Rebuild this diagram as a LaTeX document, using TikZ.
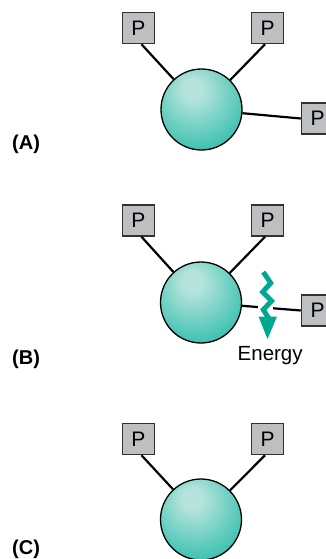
\documentclass[tikz,border=0pt]{standalone}
\usepackage{fontspec}
\setmainfont{Liberation Sans}
\usetikzlibrary{calc}
\definecolor{sphlight}{RGB}{182,228,220}
\definecolor{sphedge}{RGB}{0,176,155}
\definecolor{zigteal}{RGB}{0,168,146}
\definecolor{boxfill}{RGB}{190,191,193}
\definecolor{boxline}{RGB}{50,50,50}
\pgfdeclareradialshading{sphshade}{\pgfpoint{-6bp}{14bp}}{color(0bp)=(sphlight); color(6bp)=(sphlight); color(46bp)=(sphedge); color(70bp)=(sphedge)}
\tikzset{
  ball/.style={circle, draw=black, line width=1.3pt, shade, shading=sphshade, minimum size=81pt, inner sep=0pt},
  pbox/.style={rectangle, draw=boxline, fill=boxfill, line width=1.5pt, minimum width=32pt, minimum height=31pt, inner sep=0pt, font=\fontsize{21}{24}\selectfont},
  link/.style={draw=black, line width=2.2pt},
  plabel/.style={anchor=base west, inner sep=0pt, font=\fontsize{20}{24}\selectfont\bfseries},
  zig/.style={draw=zigteal, line width=5pt, line join=miter},
  enlabel/.style={anchor=base west, inner sep=0pt, font=\fontsize{20.5}{24}\selectfont}
}
\begin{document}
\begin{tikzpicture}[x=1pt, y=-1pt]
\useasboundingbox (0,0) rectangle (325,559);
% ---------- Panel A ----------
\node[pbox] (tlA) at (138.5,28) {P};
\node[pbox] (trA) at (267.5,28) {P};
\node[pbox] (rA) at (317.5,118.5) {P};
\node[ball] (sphA) at (201.5,109.5) {};
\coordinate (tlAa) at ($(tlA.south)+(3,0)$);
\coordinate (trAa) at ($(trA.south)+(-2.5,0)$);
\draw[link] (tlAa) -- (sphA);
\draw[link] (trAa) -- (sphA);
\draw[link] (sphA) -- (rA.west);
\node[plabel] (labA) at (12,149.3) {(A)};
% ---------- Panel B ----------
\node[pbox] (tlB) at (138.5,220.5) {P};
\node[pbox] (trB) at (267.5,220.5) {P};
\node[pbox] (rB) at (317.5,310.5) {P};
\node[ball] (sphB) at (201,302.5) {};
\coordinate (tlBa) at ($(tlB.south)+(3,0)$);
\coordinate (trBa) at ($(trB.south)+(-2.5,0)$);
\draw[link] (tlBa) -- (sphB);
\draw[link] (trBa) -- (sphB);
\path (sphB) -- (rB.west) coordinate[pos=0.27] (gapL) coordinate[pos=0.53] (gapR);
\draw[link] (sphB) -- (gapL);
\draw[link] (gapR) -- (rB.west);
\draw[zig] (263.3,272) -- (270.7,283) -- (262.7,292) -- (271.5,301) -- (263.3,309.7) -- (268.5,318);
\fill[zigteal] (258.5,316.5) -- (277,316.5) -- (267.5,339) -- cycle;
\node[enlabel] (energy) at (237.5,360) {Energy};
\node[plabel] (labB) at (12,364.7) {(B)};
% ---------- Panel C ----------
\node[pbox] (tlC) at (138.5,439) {P};
\node[pbox] (trC) at (267.5,439) {P};
\node[ball] (sphC) at (201,519.5) {};
\coordinate (tlCa) at ($(tlC.south)+(3,0)$);
\coordinate (trCa) at ($(trC.south)+(-2.5,0)$);
\draw[link] (tlCa) -- (sphC);
\draw[link] (trCa) -- (sphC);
\node[plabel] (labC) at (12,554.5) {(C)};
\end{tikzpicture}
\end{document}
